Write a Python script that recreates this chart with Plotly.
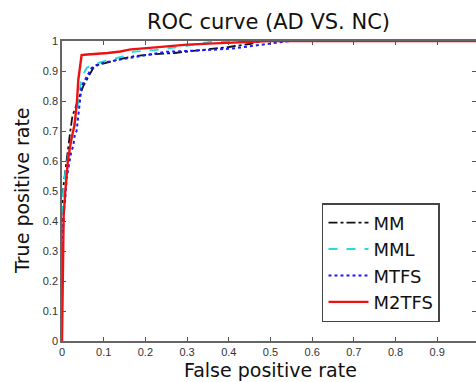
import plotly.graph_objects as go

# ROC operating points (false positive rate, true positive rate) per method
mm_fpr = [0, 0.0, 0.002, 0.006, 0.011, 0.019, 0.025, 0.030, 0.037, 0.051, 0.063, 0.075,
          0.086, 0.11, 0.14, 0.175, 0.21, 0.27, 0.34, 0.40, 0.45, 0.48, 1.0]
mm_tpr = [0, 0.41, 0.50, 0.55, 0.60, 0.69, 0.75, 0.77, 0.80, 0.85, 0.88, 0.91,
          0.92, 0.93, 0.94, 0.95, 0.955, 0.96, 0.97, 0.98, 0.99, 1.0, 1.0]

mml_fpr = [0, 0.0, 0.003, 0.008, 0.014, 0.021, 0.027, 0.034, 0.039, 0.043, 0.047, 0.059,
           0.071, 0.095, 0.12, 0.15, 0.17, 0.22, 0.28, 0.33, 0.37, 1.0]
mml_tpr = [0, 0.42, 0.50, 0.56, 0.61, 0.66, 0.70, 0.75, 0.80, 0.85, 0.88, 0.91,
           0.92, 0.93, 0.94, 0.95, 0.964, 0.97, 0.98, 0.992, 1.0, 1.0]

mtfs_fpr = [0, 0.0, 0.005, 0.007, 0.011, 0.018, 0.022, 0.027, 0.031, 0.035, 0.042, 0.047,
            0.059, 0.071, 0.083, 0.107, 0.147, 0.187, 0.25, 0.35, 0.41, 0.475, 0.547, 1.0]
mtfs_tpr = [0, 0.30, 0.44, 0.46, 0.54, 0.59, 0.63, 0.65, 0.69, 0.70, 0.80, 0.85,
            0.88, 0.91, 0.92, 0.93, 0.94, 0.95, 0.964, 0.97, 0.975, 0.987, 1.0, 1.0]

m2tfs_fpr = [0, 0.002, 0.004, 0.008, 0.014, 0.022, 0.030, 0.033, 0.036, 0.039, 0.043, 0.047,
             0.06, 0.08, 0.11, 0.14, 0.165, 0.21, 0.26, 0.30, 0.38, 0.45, 0.50, 1.0]
m2tfs_tpr = [0, 0.30, 0.42, 0.50, 0.60, 0.67, 0.72, 0.76, 0.80, 0.87, 0.92, 0.953,
             0.955, 0.956, 0.96, 0.965, 0.972, 0.977, 0.983, 0.988, 0.993, 0.997, 1.0, 1.0]

x_ticks = [0, 0.1, 0.2, 0.3, 0.4, 0.5, 0.6, 0.7, 0.8, 0.9, 1.0]
y_ticks = [0, 0.1, 0.2, 0.3, 0.4, 0.5, 0.6, 0.7, 0.8, 0.9, 1.0]

series = [
    ("MM", mm_fpr, mm_tpr, "#111111", "dashdot", 1.8),
    ("MML", mml_fpr, mml_tpr, "#22dde0", "dash", 2.0),
    ("MTFS", mtfs_fpr, mtfs_tpr, "#1a1aff", "dot", 2.0),
    ("M2TFS", m2tfs_fpr, m2tfs_tpr, "#ee1111", "solid", 2.4),
]

fig = go.Figure()
for name, fx, ty, color, dash, w in series:
    fig.add_trace(go.Scatter(x=fx, y=ty, mode="lines", name=name,
                             line=dict(color=color, dash=dash, width=w)))

# invisible trace carrying the right-hand tick marks
fig.add_trace(go.Scatter(x=[0], y=[0], yaxis="y2", mode="lines",
                         showlegend=False, hoverinfo="skip",
                         line=dict(width=0)))

tick_font = dict(family="Liberation Sans, Arial", size=11, color="#333333")
title_font = dict(family="DejaVu Sans", size=19, color="#111111")

fig.update_layout(
    width=476, height=382,
    margin=dict(l=62, r=0, t=41, b=41),
    paper_bgcolor="white", plot_bgcolor="white",
    showlegend=True,
    xaxis=dict(range=[0, 0.993], tickvals=x_ticks, ticks="inside", ticklen=4,
               tickcolor="#555555", tickwidth=1.2,
               showline=True, linecolor="#666666", linewidth=1.5,
               mirror="ticks", showgrid=False, zeroline=False,
               tickfont=tick_font, layer="below traces"),
    yaxis=dict(range=[0, 1], tickvals=y_ticks, ticks="inside", ticklen=4,
               tickcolor="#555555", tickwidth=1.2,
               showline=True, linecolor="#666666", linewidth=1.5,
               showgrid=False, zeroline=False,
               tickfont=tick_font, layer="below traces"),
    yaxis2=dict(range=[0, 1], tickvals=y_ticks, overlaying="y", side="right",
                ticks="inside", ticklen=4, tickcolor="#555555", tickwidth=1.2,
                showticklabels=False, showline=False, showgrid=False,
                zeroline=False),
    legend=dict(x=0.628, y=0.46, xanchor="left", yanchor="top",
                bgcolor="white", bordercolor="#444444", borderwidth=1.5,
                font=dict(family="DejaVu Sans", size=18, color="#111111"),
                tracegroupgap=0, itemwidth=40),
    annotations=[
        dict(text="ROC curve (AD VS. NC)", xref="paper", yref="paper",
             x=0.4976, y=1.0617, xanchor="center", yanchor="middle",
             showarrow=False, font=dict(family="DejaVu Sans", size=21, color="#111111")),
        dict(text="False positive rate", xref="paper", yref="paper",
             x=0.5036, y=-0.097, xanchor="center", yanchor="middle",
             showarrow=False, font=title_font),
        dict(text="True positive rate", xref="paper", yref="paper",
             x=-0.0966, y=0.5, xanchor="center", yanchor="middle",
             textangle=-90, showarrow=False, font=title_font),
    ],
)

fig.write_html("out.html")
